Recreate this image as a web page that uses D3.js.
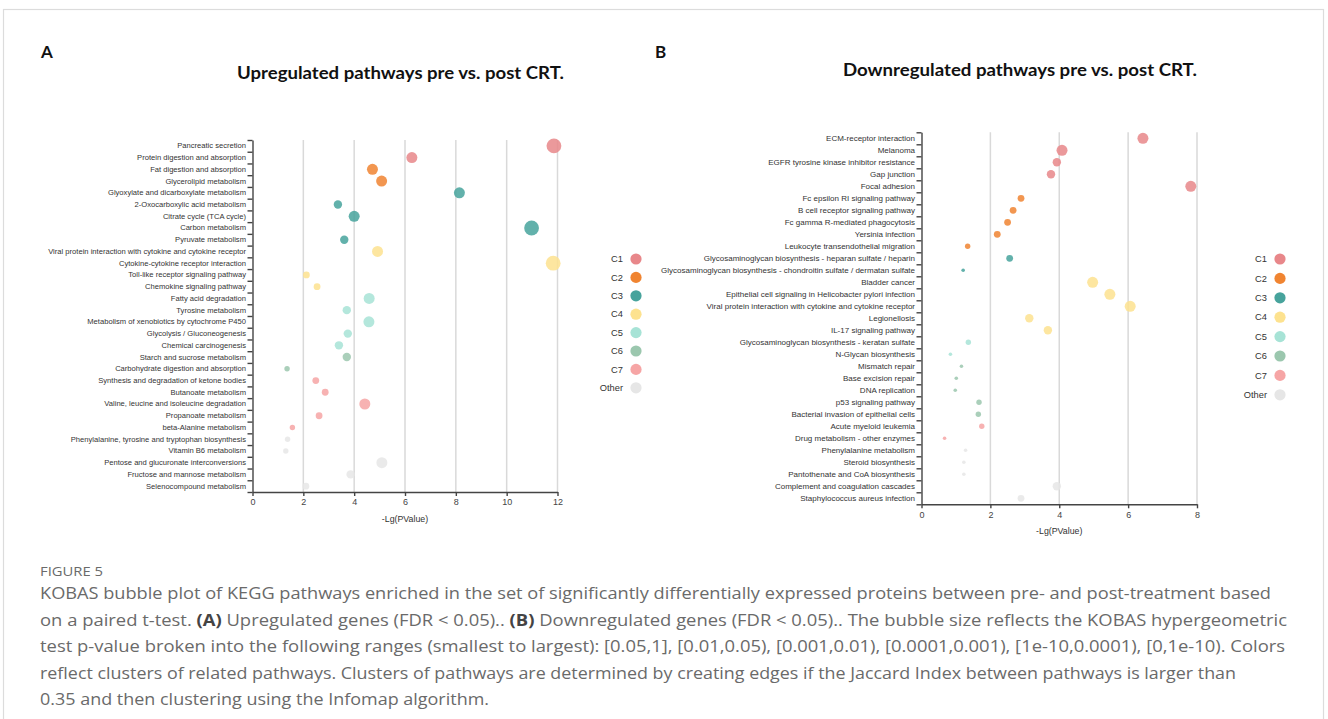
<!DOCTYPE html>
<html>
<head>
<meta charset="utf-8">
<script src="https://cdn.jsdelivr.net/npm/d3@7"></script>
<style>
  body { margin: 0; background: #fff; }
  svg { display: block; }
</style>
</head>
<body>
<svg id="fig" width="1328" height="719"></svg>
<script>
// ---- Panel A: upregulated pathways ----
const upPathways = [
  "Pancreatic secretion",
  "Protein digestion and absorption",
  "Fat digestion and absorption",
  "Glycerolipid metabolism",
  "Glyoxylate and dicarboxylate metabolism",
  "2-Oxocarboxylic acid metabolism",
  "Citrate cycle (TCA cycle)",
  "Carbon metabolism",
  "Pyruvate metabolism",
  "Viral protein interaction with cytokine and cytokine receptor",
  "Cytokine-cytokine receptor interaction",
  "Toll-like receptor signaling pathway",
  "Chemokine signaling pathway",
  "Fatty acid degradation",
  "Tyrosine metabolism",
  "Metabolism of xenobiotics by cytochrome P450",
  "Glycolysis / Gluconeogenesis",
  "Chemical carcinogenesis",
  "Starch and sucrose metabolism",
  "Carbohydrate digestion and absorption",
  "Synthesis and degradation of ketone bodies",
  "Butanoate metabolism",
  "Valine, leucine and isoleucine degradation",
  "Propanoate metabolism",
  "beta-Alanine metabolism",
  "Phenylalanine, tyrosine and tryptophan biosynthesis",
  "Vitamin B6 metabolism",
  "Pentose and glucuronate interconversions",
  "Fructose and mannose metabolism",
  "Selenocompound metabolism"
];
const upNegLogP = [
  11.86, 6.27, 4.72, 5.08, 8.14, 3.36, 4.00, 10.98, 3.61, 4.92,
  11.83, 2.12, 2.54, 4.59, 3.71, 4.58, 3.75, 3.40, 3.71, 1.36,
  2.49, 2.86, 4.42, 2.62, 1.57, 1.38, 1.31, 5.09, 3.86, 2.10
];
const upCluster = [
  "C1", "C1", "C2", "C2", "C3", "C3", "C3", "C3", "C3", "C4",
  "C4", "C4", "C4", "C5", "C5", "C5", "C5", "C5", "C6", "C6",
  "C7", "C7", "C7", "C7", "C7", "Other", "Other", "Other", "Other", "Other"
];
const upTicks = [0, 2, 4, 6, 8, 10, 12];

// ---- Panel B: downregulated pathways ----
const downPathways = [
  "ECM-receptor interaction",
  "Melanoma",
  "EGFR tyrosine kinase inhibitor resistance",
  "Gap junction",
  "Focal adhesion",
  "Fc epsilon RI signaling pathway",
  "B cell receptor signaling pathway",
  "Fc gamma R-mediated phagocytosis",
  "Yersinia infection",
  "Leukocyte transendothelial migration",
  "Glycosaminoglycan biosynthesis - heparan sulfate / heparin",
  "Glycosaminoglycan biosynthesis - chondroitin sulfate / dermatan sulfate",
  "Bladder cancer",
  "Epithelial cell signaling in Helicobacter pylori infection",
  "Viral protein interaction with cytokine and cytokine receptor",
  "Legionellosis",
  "IL-17 signaling pathway",
  "Glycosaminoglycan biosynthesis - keratan sulfate",
  "N-Glycan biosynthesis",
  "Mismatch repair",
  "Base excision repair",
  "DNA replication",
  "p53 signaling pathway",
  "Bacterial invasion of epithelial cells",
  "Acute myeloid leukemia",
  "Drug metabolism - other enzymes",
  "Phenylalanine metabolism",
  "Steroid biosynthesis",
  "Pantothenate and CoA biosynthesis",
  "Complement and coagulation cascades",
  "Staphylococcus aureus infection"
];
const downNegLogP = [
  6.43, 4.08, 3.93, 3.76, 7.82, 2.89, 2.66, 2.50, 2.20, 1.34,
  2.56, 1.21, 4.97, 5.47, 6.06, 3.13, 3.67, 1.36, 0.84, 1.16,
  1.01, 0.98, 1.67, 1.65, 1.75, 0.67, 1.28, 1.23, 1.23, 3.93,
  2.89
];
const downCluster = [
  "C1", "C1", "C1", "C1", "C1", "C2", "C2", "C2", "C2", "C2",
  "C3", "C3", "C4", "C4", "C4", "C4", "C4", "C5", "C5", "C6",
  "C6", "C6", "C6", "C6", "C7", "C7", "Other", "Other", "Other", "Other",
  "Other"
];
const downTicks = [0, 2, 4, 6, 8];

// ---- Shared encodings ----
const clusterNames = ["C1", "C2", "C3", "C4", "C5", "C6", "C7", "Other"];
const clusterColors = ["#e8878a", "#f08431", "#47a39c", "#fde28f", "#a7e3d6", "#9bc7ae", "#f6a5a5", "#e6e6e6"];
// -Lg(p) thresholds for the p-value ranges 0.05, 0.01, 0.001, 1e-4, 1e-10
const pValueBreaks = [1.301, 2, 3, 4, 10];

const captionLines = [
  "KOBAS bubble plot of KEGG pathways enriched in the set of significantly differentially expressed proteins between pre- and post-treatment based",
  ["on a paired t-test. ", "(A)", " Upregulated genes (FDR < 0.05).. ", "(B)", " Downregulated genes (FDR < 0.05).. The bubble size reflects the KOBAS hypergeometric"],
  "test p-value broken into the following ranges (smallest to largest): [0.05,1], [0.01,0.05), [0.001,0.01), [0.0001,0.001), [1e-10,0.0001), [0,1e-10). Colors",
  "reflect clusters of related pathways. Clusters of pathways are determined by creating edges if the Jaccard Index between pathways is larger than",
  "0.35 and then clustering using the Infomap algorithm."
];

const svg = d3.select("#fig");
const color = d3.scaleOrdinal().domain(clusterNames).range(clusterColors);
const radius = d3.scaleThreshold().domain(pValueBreaks).range([1.8, 2.7, 3.4, 4.2, 5.5, 7.4]);

// outer frame
svg.append("rect")
  .attr("x", 3.5).attr("y", 9.5).attr("width", 1320).attr("height", 730)
  .attr("fill", "none").attr("stroke", "#dcdcdc").attr("stroke-width", 1.2);

function drawPanel(cfg) {
  const g = svg.append("g");
  const n = cfg.names.length;
  const x = d3.scaleLinear().domain([0, cfg.ticks[cfg.ticks.length - 1]]).range([cfg.x0, cfg.x1]);
  const y = d3.scaleBand().domain(cfg.names).range([cfg.y0, cfg.y1]);
  const yIdx = d3.scaleLinear().domain([0, n]).range([cfg.y0, cfg.y1]);

  // vertical grid lines
  g.append("g").selectAll("line")
    .data(cfg.ticks.filter(t => t > 0))
    .join("line")
    .attr("x1", d => x(d)).attr("x2", d => x(d))
    .attr("y1", cfg.y0).attr("y2", cfg.y1)
    .attr("stroke", "#d9d9d9").attr("stroke-width", 1.5);

  // category labels
  const yLab = g.append("g").attr("transform", `translate(${cfg.x0},0)`)
    .call(d3.axisLeft(y).tickSize(0).tickPadding(cfg.labelPad));
  yLab.select(".domain").remove();
  yLab.selectAll("text")
    .attr("font-family", "'Liberation Sans', Arial, sans-serif")
    .attr("font-size", cfg.labelSize).attr("fill", "#333");

  // band boundary ticks + axis line
  const yTicks = g.append("g").attr("transform", `translate(${cfg.x0},0)`)
    .call(d3.axisLeft(yIdx).tickValues(d3.range(n + 1)).tickSize(5).tickSizeOuter(0).tickFormat(""));
  yTicks.selectAll("line, path").attr("stroke", "#444").attr("stroke-width", 1.4);

  // x axis
  const xAx = g.append("g").attr("transform", `translate(0,${cfg.y1})`)
    .call(d3.axisBottom(x).tickValues(cfg.ticks).tickSize(4).tickSizeOuter(0).tickPadding(3));
  xAx.selectAll("line, path").attr("stroke", "#444").attr("stroke-width", 1.4);
  xAx.selectAll("text")
    .attr("font-family", "'Liberation Sans', Arial, sans-serif")
    .attr("font-size", 9).attr("fill", "#444");

  g.append("text")
    .attr("x", (cfg.x0 + cfg.x1) / 2).attr("y", cfg.y1 + 30)
    .attr("text-anchor", "middle")
    .attr("font-family", "'Liberation Sans', Arial, sans-serif")
    .attr("font-size", 8.8).attr("fill", "#333")
    .text("-Lg(PValue)");

  // bubbles
  const rows = cfg.names.map((name, i) => ({ name, v: cfg.values[i], c: cfg.clusters[i] }));
  g.append("g").selectAll("circle")
    .data(rows)
    .join("circle")
    .attr("cx", d => x(d.v))
    .attr("cy", d => y(d.name) + y.bandwidth() / 2)
    .attr("r", d => radius(d.v))
    .attr("fill", d => color(d.c))
    .attr("fill-opacity", 0.85);

  // legend
  const lg = g.append("g");
  clusterNames.forEach((c, i) => {
    const ly = cfg.legY + i * cfg.legStep;
    lg.append("text")
      .attr("x", cfg.legX - 13).attr("y", ly).attr("dy", "0.35em")
      .attr("text-anchor", "end")
      .attr("font-family", "'Liberation Sans', Arial, sans-serif")
      .attr("font-size", 9.3).attr("fill", "#333")
      .text(c);
    lg.append("circle")
      .attr("cx", cfg.legX).attr("cy", ly).attr("r", 5.6)
      .attr("fill", color(c));
  });

  // panel letter and title
  svg.append("text")
    .attr("x", cfg.letterX).attr("y", 58)
    .attr("font-family", "Lato, 'Open Sans', sans-serif")
    .attr("font-weight", "bold").attr("font-size", 17).attr("fill", "#111")
    .text(cfg.letter);
  svg.append("text")
    .attr("x", cfg.titleX).attr("y", cfg.titleY)
    .attr("text-anchor", "middle")
    .attr("font-family", "Lato, 'Open Sans', sans-serif")
    .attr("font-weight", "bold").attr("font-size", 16.5).attr("fill", "#111")
    .attr("textLength", cfg.titleW).attr("lengthAdjust", "spacingAndGlyphs")
    .text(cfg.title);
}

drawPanel({
  names: upPathways, values: upNegLogP, clusters: upCluster, ticks: upTicks,
  x0: 252.5, x1: 557.5, y0: 140, y1: 492, labelSize: 7.6, labelPad: 6.5,
  legX: 636, legY: 259, legStep: 18.4,
  letter: "A", letterX: 41, title: "Upregulated pathways pre vs. post CRT.",
  titleX: 400.5, titleY: 79, titleW: 327
});
drawPanel({
  names: downPathways, values: downNegLogP, clusters: downCluster, ticks: downTicks,
  x0: 921.5, x1: 1197, y0: 132.3, y1: 504.3, labelSize: 8, labelPad: 6.5,
  legX: 1280, legY: 259, legStep: 19.4,
  letter: "B", letterX: 655, title: "Downregulated pathways pre vs. post CRT.",
  titleX: 1020, titleY: 76, titleW: 354
});

// caption
const cap = svg.append("g")
  .attr("font-family", "'Open Sans', Lato, sans-serif")
  .attr("fill", "#6a6a6a");
cap.append("text")
  .attr("x", 40).attr("y", 576)
  .attr("font-size", 12.5)
  .attr("textLength", 63).attr("lengthAdjust", "spacingAndGlyphs")
  .text("FIGURE 5");
const lineWidths = [1231, 1247, 1245, 1196, 449];
captionLines.forEach((line, i) => {
  const t = cap.append("text")
    .attr("x", 40).attr("y", 599 + i * 26.6)
    .attr("font-size", 16.5)
    .attr("textLength", lineWidths[i]).attr("lengthAdjust", "spacingAndGlyphs");
  if (Array.isArray(line)) {
    line.forEach(part => {
      const bold = /^\([AB]\)$/.test(part);
      t.append("tspan")
        .attr("font-weight", bold ? "bold" : null)
        .attr("fill", bold ? "#444" : null)
        .text(part);
    });
  } else {
    t.text(line);
  }
});
</script>
</body>
</html>
